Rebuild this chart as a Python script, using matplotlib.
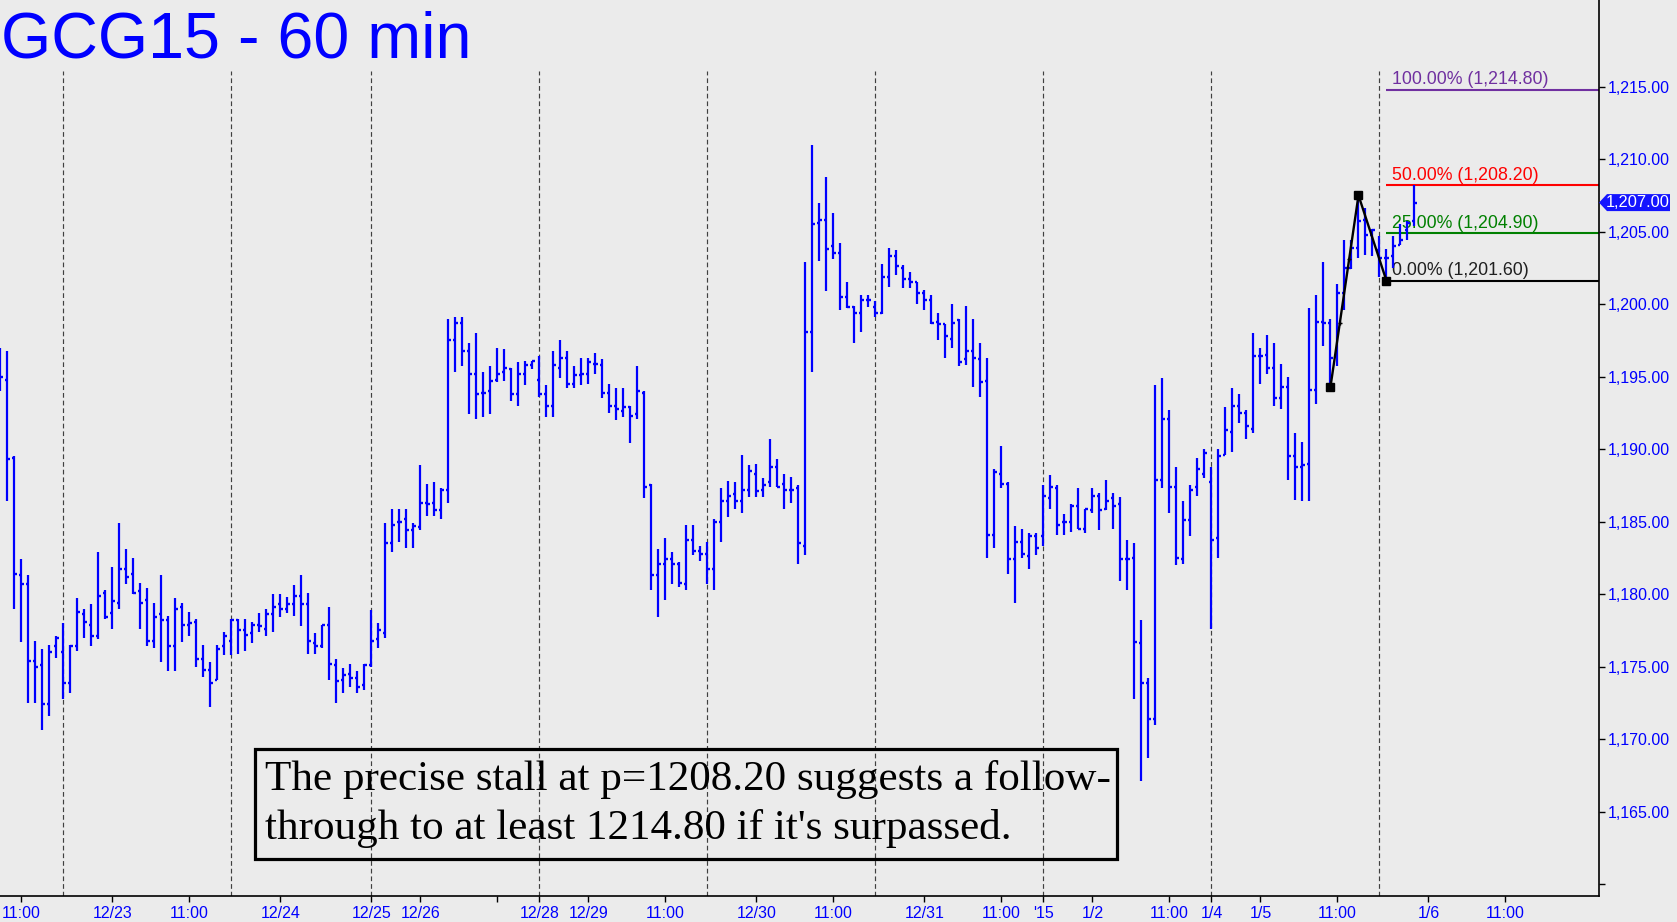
import matplotlib
matplotlib.use("Agg")
import matplotlib.pyplot as plt
from matplotlib.patches import Rectangle, Polygon
import numpy as np

# ---------------- data ----------------
opens = [1196.0,1194.8,1189.4,1181.3,1180.7,1175.4,1175.1,1172.4,1176.4,1176.0,
         1173.9,1176.4,1178.6,1177.9,1177.1,1180.1,1178.7,1179.4,1181.7,1181.4,
         1180.2,1179.6,1176.8,1178.6,1178.2,1176.4,1179.1,1177.9,1178.1,1175.5,
         1174.8,1174.1,1176.4,1176.8,1178.2,1177.5,1177.3,1177.9,1177.6,1178.6,
         1179.3,1179.0,1179.3,1179.9,1179.3,1176.6,1176.4,1177.9,1175.1,1174.1,
         1174.5,1174.2,1173.7,1175.1,1176.9,1177.3,1183.5,1185.0,1185.2,1184.4,
         1184.6,1186.3,1186.3,1185.8,1187.2,1197.5,1198.7,1196.8,1195.2,1193.9,
         1194.0,1194.8,1195.3,1195.5,1193.8,1195.2,1195.8,1194.8,1193.8,1193.0,
         1195.6,1196.3,1194.5,1195.1,1195.2,1195.9,1195.8,1193.9,1193.0,1192.6,
         1192.9,1192.4,1193.9,1187.5,1181.3,1182.1,1182.4,1182.1,1180.7,1183.7,
         1183.0,1182.8,1181.7,1185.0,1186.4,1186.9,1186.4,1187.2,1188.3,1187.2,
         1187.7,1188.8,1187.6,1187.2,1187.3,1183.3,1198.1,1205.6,1205.8,1204.0,
         1203.5,1200.5,1199.8,1199.4,1200.3,1199.8,1199.4,1201.9,1203.3,1202.5,
         1201.7,1201.5,1200.8,1200.3,1198.8,1198.6,1197.6,1198.9,1196.2,1196.8,
         1196.2,1194.7,1184.1,1188.3,1187.6,1182.4,1183.6,1182.6,1184.0,1184.0,
         1186.6,1187.3,1185.0,1185.0,1186.1,1184.5,1185.8,1186.8,1185.9,1186.6,
         1186.2,1182.4,1182.5,1176.6,1173.9,1171.4,1187.9,1192.1,1187.4,1182.4,
         1185.1,1187.4,1188.3,1187.7,1183.9,1189.6,1191.2,1193.0,1192.5,1191.4,
         1196.4,1196.5,1195.6,1193.5,1194.3,1189.5,1188.8,1189.0,1194.1,1198.8,
         1198.7,1196.4,1200.8,1202.5,1203.9,1205.8,1204.8,1203.7,1203.2,1203.3,
         1204.1,1205.1,1205.7]
highs = [1197.0,1196.8,1189.5,1182.4,1181.3,1176.8,1176.2,1176.5,1177.1,1178.0,
         1176.5,1179.7,1179.0,1179.3,1182.9,1180.3,1181.9,1184.9,1183.1,1182.5,
         1180.8,1180.4,1179.4,1181.3,1178.5,1179.7,1179.4,1178.8,1178.3,1176.5,
         1175.3,1176.5,1177.4,1178.3,1178.3,1178.3,1178.1,1178.7,1179.0,1180.0,
         1180.0,1179.8,1180.6,1181.3,1180.1,1177.3,1177.9,1179.1,1175.5,1174.9,
         1175.2,1174.7,1175.2,1178.9,1178.0,1184.9,1185.9,1185.9,1185.9,1184.9,
         1188.9,1187.6,1187.7,1187.3,1199.0,1199.1,1199.1,1197.3,1198.0,1195.3,
         1195.7,1197.0,1196.9,1195.6,1196.0,1196.1,1196.1,1196.4,1194.4,1196.8,
         1197.5,1196.8,1195.7,1196.3,1196.3,1196.6,1196.2,1194.5,1194.2,1194.2,
         1193.0,1195.7,1194.0,1187.6,1183.1,1183.9,1182.9,1182.2,1184.8,1184.8,
         1183.3,1183.6,1185.2,1187.3,1187.8,1187.7,1189.6,1188.9,1189.0,1188.0,
         1190.7,1189.3,1188.3,1188.1,1187.5,1202.9,1211.0,1207.0,1208.8,1206.3,
         1204.2,1201.5,1199.9,1200.6,1200.6,1200.2,1202.8,1203.9,1203.7,1202.7,
         1202.2,1201.5,1201.0,1200.6,1199.4,1198.6,1200.0,1199.0,1199.9,1199.0,
         1197.3,1196.3,1188.6,1190.2,1187.7,1184.7,1184.5,1184.2,1184.2,1187.5,
         1188.2,1187.5,1185.5,1186.2,1187.3,1185.9,1187.3,1187.0,1187.9,1187.0,
         1186.7,1183.7,1183.5,1178.2,1174.2,1194.4,1194.9,1192.7,1188.8,1186.4,
         1187.5,1189.4,1190.0,1188.8,1190.0,1192.9,1194.2,1193.8,1192.7,1198.0,
         1197.0,1197.9,1197.3,1195.9,1195.0,1191.1,1190.5,1199.7,1200.6,1202.9,
         1199.0,1201.4,1204.4,1204.4,1207.5,1206.6,1205.2,1204.7,1203.8,1204.7,
         1205.5,1205.7,1208.2]
lows = [1194.0,1186.4,1179.0,1176.7,1172.5,1172.5,1170.6,1171.6,1175.6,1172.8,
        1173.2,1176.1,1177.0,1176.4,1176.9,1178.3,1177.6,1179.0,1180.7,1180.0,
        1177.6,1176.4,1176.3,1175.3,1174.7,1174.7,1176.7,1177.1,1175.0,1174.3,
        1172.2,1174.1,1175.8,1175.8,1175.9,1176.1,1176.6,1177.4,1177.1,1177.4,
        1178.4,1178.7,1178.5,1177.8,1175.9,1175.9,1176.3,1174.1,1172.5,1173.2,
        1173.6,1173.2,1173.4,1175.0,1176.3,1177.0,1182.9,1183.6,1183.2,1183.2,
        1184.4,1185.4,1185.4,1185.2,1186.3,1195.3,1195.7,1192.4,1192.1,1192.2,
        1192.4,1194.6,1194.7,1193.3,1193.0,1194.4,1195.5,1193.6,1192.2,1192.2,
        1194.9,1194.2,1194.2,1194.4,1194.5,1195.2,1193.5,1192.5,1192.0,1192.2,
        1190.4,1192.1,1186.6,1180.3,1178.4,1179.6,1180.7,1180.5,1180.3,1182.7,
        1182.3,1180.7,1180.3,1183.6,1185.3,1185.9,1185.6,1186.7,1186.7,1186.7,
        1187.4,1187.4,1185.9,1186.3,1182.1,1182.7,1195.3,1203.0,1200.9,1203.1,
        1199.6,1199.7,1197.3,1198.1,1199.8,1199.1,1199.3,1201.2,1202.0,1201.1,
        1201.1,1200.0,1199.6,1198.6,1197.5,1196.3,1197.0,1195.7,1195.8,1194.3,
        1193.6,1182.5,1183.2,1187.3,1181.4,1179.4,1182.5,1181.7,1182.7,1183.3,
        1185.9,1184.1,1184.1,1184.3,1184.5,1184.2,1185.6,1184.4,1185.8,1184.5,
        1180.9,1180.3,1172.8,1167.1,1168.7,1171.0,1187.3,1185.6,1182.0,1182.1,
        1184.0,1186.8,1188.0,1177.6,1182.5,1189.6,1189.8,1191.8,1190.7,1191.1,
        1194.5,1195.2,1193.0,1192.8,1187.9,1186.5,1186.4,1186.4,1193.1,1197.1,
        1194.3,1195.7,1199.6,1202.4,1203.2,1203.4,1203.3,1201.9,1201.6,1202.5,
        1204.1,1204.4,1205.4]
closes = [1195.0,1189.3,1181.4,1180.7,1175.4,1175.0,1172.4,1176.0,1177.0,1173.9,
          1176.4,1178.8,1178.1,1177.1,1179.9,1178.4,1179.5,1181.7,1181.2,1180.1,
          1179.4,1176.8,1178.4,1178.2,1176.4,1179.0,1177.9,1178.0,1175.5,1174.8,
          1173.9,1176.2,1177.1,1178.2,1177.5,1177.2,1177.9,1177.8,1178.6,1179.1,
          1179.0,1179.3,1179.9,1179.3,1176.8,1176.4,1177.9,1175.2,1174.0,1174.4,
          1174.2,1173.6,1175.1,1176.8,1177.5,1183.5,1184.8,1185.0,1184.4,1184.7,
          1186.3,1186.2,1185.8,1187.2,1197.5,1198.7,1196.8,1195.2,1193.8,1193.9,
          1194.7,1195.2,1195.6,1193.8,1195.2,1195.8,1196.1,1193.8,1193.0,1195.8,
          1196.3,1194.5,1195.1,1195.2,1196.0,1195.9,1193.9,1193.0,1192.8,1192.9,
          1192.3,1194.0,1187.4,1181.3,1182.1,1182.4,1182.1,1180.8,1183.7,1183.0,
          1182.8,1181.7,1185.0,1186.4,1186.8,1186.4,1187.2,1188.5,1187.1,1187.5,
          1188.8,1187.4,1187.2,1187.2,1183.5,1198.1,1205.5,1205.8,1203.8,1203.5,
          1200.5,1199.8,1199.4,1200.3,1200.3,1199.4,1201.9,1203.3,1202.6,1201.7,
          1201.5,1200.8,1200.3,1198.7,1198.6,1197.8,1198.7,1196.0,1196.8,1196.3,
          1194.6,1184.1,1188.4,1187.6,1182.4,1183.6,1182.8,1184.0,1183.2,1186.8,
          1187.4,1184.8,1185.0,1186.1,1184.5,1185.9,1186.8,1185.8,1186.4,1186.1,
          1182.4,1182.4,1176.7,1173.9,1171.4,1187.9,1192.1,1187.4,1182.5,1185.1,
          1187.2,1188.6,1189.7,1183.7,1189.5,1191.3,1193.0,1192.5,1191.6,1196.4,
          1196.4,1195.6,1193.5,1194.3,1189.5,1188.8,1188.9,1194.1,1198.8,1198.7,
          1196.3,1200.8,1202.5,1203.9,1205.7,1204.8,1205.1,1203.2,1203.2,1204.0,
          1204.4,1205.6,1207.0]

session_starts = [9, 33, 53, 77, 101, 125, 149, 173, 197]
xtick_pos = [3, 16, 27, 40, 53, 60, 71, 77, 84, 95, 108, 119, 132, 143, 149,
             156, 167, 173, 180, 191, 204, 215]
xtick_labels = ["11:00", "12/23", "11:00", "12/24", "12/25", "12/26", "", "12/28",
                "12/29", "11:00", "12/30", "11:00", "12/31", "11:00", "'15", "1/2",
                "11:00", "1/4", "1/5", "11:00", "1/6", "11:00"]
ytick_vals = [1160, 1165, 1170, 1175, 1180, 1185, 1190, 1195, 1200, 1205, 1210, 1215]

fib_levels = [1214.80, 1208.20, 1204.90, 1201.60]
fib_pcts = ["100.00%", "50.00%", "25.00%", "0.00%"]
fib_colors = ["#7030A0", "#FF0000", "#008000", "#000000"]
fib_start = 198

zig_x = [190, 194, 198]
zig_y = [1194.3, 1207.5, 1201.6]
last_price = 1207.00

title = "GCG15 - 60 min"
note1 = "The precise stall at p=1208.20 suggests a follow-"
note2 = "through to at least 1214.80 if it's surpassed."

# ---------------- figure ----------------
W, H = 1677, 922
BG = "#EBEBEB"
BLUE = "#0000FF"
fig = plt.figure(figsize=(W / 100, H / 100), dpi=100)
fig.patch.set_facecolor(BG)

ax_bottom_px = 896
ax_right_px = 1599
ax = fig.add_axes([0, (H - ax_bottom_px) / H, ax_right_px / W, ax_bottom_px / H])
ax.set_facecolor(BG)

ppu = 14.5  # pixels per price unit
ytop = 1215 + 86.6 / ppu
ybot = 1215 - (ax_bottom_px - 86.6) / ppu
ax.set_ylim(ybot, ytop)
x0 = -0.07
xmax = x0 + ax_right_px / 7.0
ax.set_xlim(x0, xmax)

# session separators
dash_top = 1215 + (86.6 - 71) / ppu
ax.vlines(session_starts, ybot, dash_top, colors="#404040",
          linestyles=(0, (4, 2.5)), linewidth=0.85, zorder=1)

# fib lines and labels
for lvl, pct, col in zip(fib_levels, fib_pcts, fib_colors):
    ax.hlines(lvl, fib_start, xmax, colors=col, linewidth=1.5, zorder=2)
    txtcol = col if col != "#000000" else "#202020"
    ax.text(fib_start + 0.85, lvl + 5.5 / ppu, f"{pct} ({lvl:,.2f})", color=txtcol,
            fontsize=12.8, family="Liberation Sans", va="baseline", ha="left", zorder=2)

# OHLC bars
idx = np.arange(len(opens))
ax.vlines(idx, lows, highs, colors=BLUE, linewidth=1.6, zorder=3)
ax.hlines(opens, idx - 0.38, idx, colors=BLUE, linewidth=1.7, zorder=3)
ax.hlines(closes, idx, idx + 0.38, colors=BLUE, linewidth=1.7, zorder=3)

# zigzag
ax.plot(zig_x, zig_y, color="black", linewidth=1.7, marker="s", markersize=5.5,
        zorder=5)
mid_x = [zig_x[0] + (zig_x[1] - zig_x[0]) / 3, zig_x[0] + 2 * (zig_x[1] - zig_x[0]) / 3]
mid_y = [zig_y[0] + (zig_y[1] - zig_y[0]) / 3, zig_y[0] + 2 * (zig_y[1] - zig_y[0]) / 3]
ax.plot(mid_x, mid_y, linestyle="none", marker="+", markersize=3.5,
        markeredgewidth=1, color="black", zorder=5)

# spines
for s in ["top", "left"]:
    ax.spines[s].set_visible(False)
for s in ["right", "bottom"]:
    ax.spines[s].set_color("black")
    ax.spines[s].set_linewidth(1.2)

# y axis on right
ax.yaxis.tick_right()
ax.set_yticks(ytick_vals)
ax.set_yticklabels(["" if v == 1160 else f"{v:,.2f}" for v in ytick_vals])
ax.tick_params(axis="y", direction="out", length=4, width=1, color="black",
               labelcolor=BLUE, labelsize=11.5, pad=2)
for lab in ax.get_yticklabels():
    lab.set_family("Liberation Sans")

ax.set_xticks(xtick_pos)
ax.set_xticklabels(xtick_labels)
ax.tick_params(axis="x", direction="out", length=4, width=1, color="black",
               labelcolor=BLUE, labelsize=11.5, pad=3)
for lab in ax.get_xticklabels():
    lab.set_family("Liberation Sans")

# current price marker
def fx(px):
    return px / W

def fy(py):
    return 1 - py / H

py_c = 86.6 + (1215 - last_price) * ppu
poly = Polygon([(fx(1599), fy(py_c)), (fx(1607), fy(py_c - 8.5)), (fx(1670), fy(py_c - 8.5)),
                (fx(1670), fy(py_c + 8.5)), (fx(1607), fy(py_c + 8.5))],
               closed=True, transform=fig.transFigure, facecolor="#1414FF",
               edgecolor="none", zorder=10)
fig.patches.append(poly)
fig.text(fx(1638), fy(py_c), f"{last_price:,.2f}", color="white", fontsize=11.8,
         family="Liberation Sans", ha="center", va="center", zorder=11)

# title
fig.text(fx(1), fy(58), title, color=BLUE, fontsize=46.5, family="Liberation Sans",
         ha="left", va="baseline")

# annotation box
rect = Rectangle((fx(254.5), fy(858.8)), fx(1116.6 - 254.5), (858.8 - 748.7) / H,
                 transform=fig.transFigure, facecolor="none", edgecolor="black",
                 linewidth=2.3, zorder=10)
fig.patches.append(rect)
t1 = fig.text(fx(265), fy(790), note1, color="black", fontsize=30,
              family="Liberation Serif", ha="left", va="baseline")
t2 = fig.text(fx(265), fy(838.5), note2, color="black", fontsize=30,
              family="Liberation Serif", ha="left", va="baseline")
fig.canvas.draw()
bw = t1.get_window_extent().width
fs = 30 * 846.0 / bw
t1.set_fontsize(fs)
t2.set_fontsize(fs)

fig.savefig("out.png", dpi=100, facecolor=BG)
